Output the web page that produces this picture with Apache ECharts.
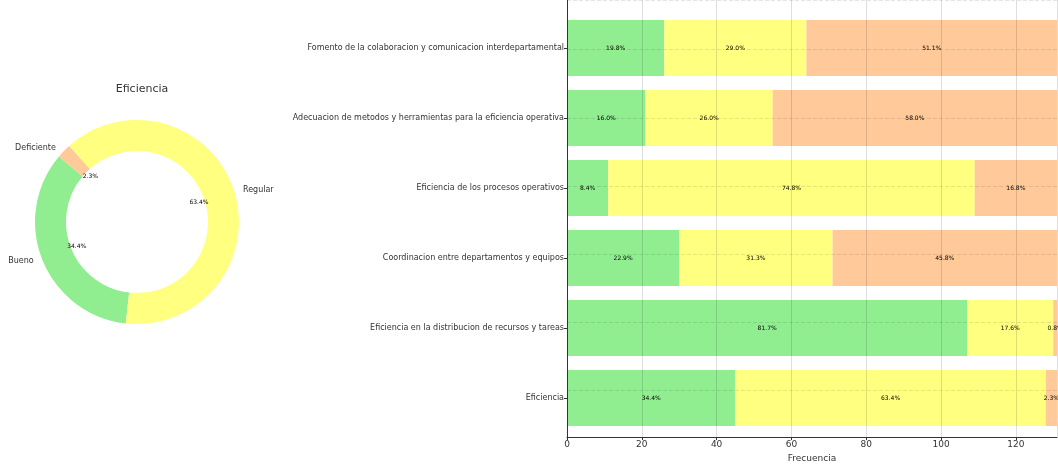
<!DOCTYPE html>
<html>
<head>
<meta charset="utf-8">
<script src="https://cdn.jsdelivr.net/npm/echarts@6/dist/echarts.min.js"></script>
<style>
html,body{margin:0;padding:0;background:#fff;}
#c{width:1058px;height:468px;}
</style>
</head>
<body>
<div id="c"></div>
<script>
// ---- data ----
const categories = [
  'Fomento de la colaboracion y comunicacion interdepartamental',
  'Adecuacion de metodos y herramientas para la eficiencia operativa',
  'Eficiencia de los procesos operativos',
  'Coordinacion entre departamentos y equipos',
  'Eficiencia en la distribucion de recursos y tareas',
  'Eficiencia'
];
const bueno      = [26, 21, 11, 30, 107, 45];
const regular    = [38, 34, 98, 41, 23, 83];
const deficiente = [67, 76, 22, 60, 1, 3];
const xTicks = [0, 20, 40, 60, 80, 100, 120];

const pieTitle = 'Eficiencia';
const pieNames = ['Bueno', 'Regular', 'Deficiente'];
const pieValues = [45, 83, 3];

const colors = { Bueno: '#90EE90', Regular: '#FFFF80', Deficiente: '#FFC999' };

// ---- build ----
const totals = categories.map((_, i) => bueno[i] + regular[i] + deficiente[i]);
const xMax = 131;
const pieSum = pieValues.reduce((a, b) => a + b, 0);

function barSeries(name, arr) {
  return {
    name: name, type: 'bar', stack: 'total',
    xAxisIndex: 1, yAxisIndex: 1,
    barWidth: 56, z: 2,
    itemStyle: { color: colors[name] },
    label: {
      show: true, position: 'inside', fontSize: 6, color: '#000',
      fontFamily: 'DejaVu Sans',
      formatter: p => (arr[p.dataIndex] / totals[p.dataIndex] * 100).toFixed(1) + '%'
    },
    data: arr
  };
}

const option = {
  animation: false,
  backgroundColor: '#fff',
  textStyle: { fontFamily: 'DejaVu Sans' },
  title: {
    text: pieTitle, left: 137, top: 79, textAlign: 'center',
    textStyle: { fontSize: 11, fontWeight: 'normal', color: '#333', fontFamily: 'DejaVu Sans' }
  },
  grid: [
    { left: 567, right: 1, top: -3, bottom: 22 },
    { left: 567, right: 1, top: 13, bottom: 35 }
  ],
  xAxis: [
    {
      gridIndex: 0, type: 'value', min: 0, max: xMax, interval: 20, z: 5,
      name: 'Frecuencia', nameLocation: 'middle', nameGap: 13,
      nameTextStyle: { fontSize: 9, color: '#333' },
      axisLine: { show: true, onZero: false, lineStyle: { color: '#333', width: 1 } },
      axisTick: { show: true, length: 3, lineStyle: { color: '#333' } },
      axisLabel: { fontSize: 9, color: '#333', margin: 3, showMaxLabel: false,
        formatter: v => xTicks.indexOf(v) >= 0 ? String(v) : '' },
      splitLine: { show: true, lineStyle: { color: 'rgba(0,0,0,0.13)', width: 1 } }
    },
    { gridIndex: 1, type: 'value', min: 0, max: xMax, show: false }
  ],
  yAxis: [
    {
      gridIndex: 0, type: 'value', min: -0.69, max: 5.73, z: 5,
      axisLine: { show: true, onZero: false, lineStyle: { color: '#333', width: 1 } },
      axisTick: { show: false }, axisLabel: { show: false },
      splitLine: { show: true, lineStyle: { color: 'rgba(0,0,0,0.10)', width: 1, type: 'dashed' } }
    },
    {
      gridIndex: 1, type: 'category', inverse: true, data: categories,
      axisLine: { show: false },
      axisTick: { show: true, alignWithLabel: true, length: 3, lineStyle: { color: '#333' } },
      axisLabel: { fontSize: 8, color: '#333', margin: 3 },
      splitLine: { show: false }
    }
  ],
  series: [
    barSeries('Bueno', bueno),
    barSeries('Regular', regular),
    barSeries('Deficiente', deficiente),
    {
      type: 'pie', radius: [71, 102], center: [137, 222],
      startAngle: 140, clockwise: false, avoidLabelOverlap: false, silent: true,
      label: { show: true, position: 'outside', formatter: '{b}', fontSize: 8, color: '#333' },
      labelLine: { show: false, length: 4, length2: 0 },
      data: pieNames.map((n, i) => ({ name: n, value: pieValues[i], itemStyle: { color: colors[n] } }))
    },
    {
      type: 'pie', radius: [0, 124], center: [137, 222],
      startAngle: 140, clockwise: false, avoidLabelOverlap: false, silent: true, z: 3,
      itemStyle: { color: 'rgba(0,0,0,0)' },
      label: { show: true, position: 'inside', fontSize: 6, color: '#000',
        formatter: p => (p.value / pieSum * 100).toFixed(1) + '%' },
      labelLine: { show: false },
      data: pieNames.map((n, i) => ({ name: n, value: pieValues[i] }))
    }
  ]
};

const chart = echarts.init(document.getElementById('c'), null, { renderer: 'canvas' });
chart.setOption(option);
</script>
</body>
</html>
